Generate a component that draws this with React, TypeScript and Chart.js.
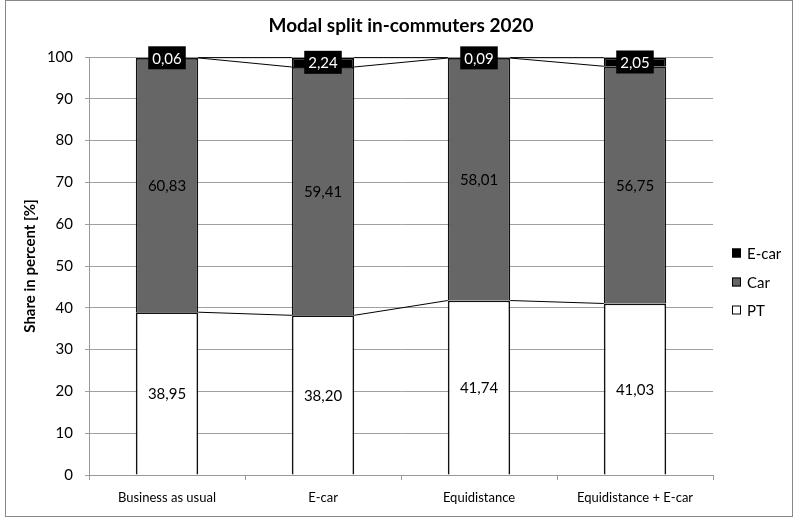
import React, { useEffect, useRef } from "react";
import { Chart, registerables } from "chart.js";

Chart.register(...registerables);

const categories = ["Business as usual", "E-car", "Equidistance", "Equidistance + E-car"];
const ptValues = [38.95, 38.2, 41.74, 41.03];
const carValues = [60.83, 59.41, 58.01, 56.75];
const ecarValues = [0.06, 2.24, 0.09, 2.05];
const seriesNames = ["PT", "Car", "E-car"];
const title = "Modal split in-commuters 2020";
const yTitle = "Share in percent [%]";

const FONT = "Lato, 'Open Sans', sans-serif";
const fmt = (v: number) => v.toFixed(2).replace(".", ",");

const decorPlugin = {
  id: "decor",
  beforeDatasetsDraw(chart: any) {
    const ctx = chart.ctx;
    ctx.save();
    ctx.strokeStyle = "#000";
    ctx.lineWidth = 1;
    chart.data.datasets.forEach((_: any, d: number) => {
      const meta = chart.getDatasetMeta(d);
      for (let i = 0; i < meta.data.length - 1; i++) {
        const a = meta.data[i];
        const b = meta.data[i + 1];
        ctx.beginPath();
        ctx.moveTo(a.x + a.width / 2, a.y);
        ctx.lineTo(b.x - b.width / 2, b.y);
        ctx.stroke();
      }
    });
    ctx.restore();
  },
  afterDatasetsDraw(chart: any) {
    const ctx = chart.ctx;
    ctx.save();
    ctx.font = `15px ${FONT}`;
    ctx.textAlign = "center";
    ctx.textBaseline = "middle";
    chart.data.datasets.forEach((ds: any, d: number) => {
      const meta = chart.getDatasetMeta(d);
      meta.data.forEach((el: any, i: number) => {
        const txt = fmt(ds.data[i]);
        const cy = (el.y + el.base) / 2;
        if (d === 2) {
          const w = ctx.measureText(txt).width + 8;
          const h = 23;
          ctx.fillStyle = "#000";
          ctx.fillRect(el.x - w / 2, cy - h / 2, w, h);
          ctx.fillStyle = "#fff";
          ctx.fillText(txt, el.x, cy + 1);
        } else {
          ctx.fillStyle = "#000";
          ctx.fillText(txt, el.x, cy + 1);
        }
      });
    });
    ctx.restore();
  },
  afterDraw(chart: any) {
    const ctx = chart.ctx;
    const ca = chart.chartArea;
    ctx.save();
    // outer border
    ctx.strokeStyle = "#888";
    ctx.lineWidth = 1;
    ctx.strokeRect(5.5, 0.5, 787, 516);
    // title
    ctx.fillStyle = "#000";
    ctx.font = `bold 19px ${FONT}`;
    ctx.textAlign = "center";
    ctx.textBaseline = "middle";
    ctx.fillText(title, (ca.left + ca.right) / 2, 26);
    // y title
    ctx.save();
    ctx.translate(30, (ca.top + ca.bottom) / 2);
    ctx.rotate(-Math.PI / 2);
    ctx.font = `bold 15px ${FONT}`;
    ctx.fillText(yTitle, 0, 0);
    ctx.restore();
    // legend
    const items = [
      { name: seriesNames[2], fill: "#000", y: 253 },
      { name: seriesNames[1], fill: "#666", y: 282 },
      { name: seriesNames[0], fill: "#fff", y: 310 },
    ];
    ctx.font = `15px ${FONT}`;
    ctx.textAlign = "left";
    items.forEach((it) => {
      ctx.fillStyle = it.fill;
      ctx.fillRect(732, it.y - 4.5, 9, 9);
      ctx.strokeStyle = "#000";
      ctx.lineWidth = 1;
      ctx.strokeRect(732.5, it.y - 4, 8, 8);
      ctx.fillStyle = "#000";
      ctx.fillText(it.name, 747, it.y + 1);
    });
    ctx.restore();
  },
};

export default function App() {
  const ref = useRef<HTMLCanvasElement>(null);
  useEffect(() => {
    if (!ref.current) return;
    const chart = new Chart(ref.current, {
      type: "bar",
      data: {
        labels: categories,
        datasets: [
          { label: seriesNames[0], data: ptValues, backgroundColor: "#ffffff", borderColor: "#111", borderWidth: 1.75 },
          { label: seriesNames[1], data: carValues, backgroundColor: "#666666", borderColor: "#111", borderWidth: 1.75 },
          { label: seriesNames[2], data: ecarValues, backgroundColor: "#000000", borderColor: "#000", borderWidth: 1.75 },
        ],
      },
      options: {
        responsive: false,
        animation: false,
        devicePixelRatio: 1,
        layout: { padding: { left: 0, right: 83, top: 57, bottom: 0 } },
        datasets: { bar: { barPercentage: 0.4, categoryPercentage: 1 } },
        plugins: { legend: { display: false }, title: { display: false }, tooltip: { enabled: false } },
        scales: {
          x: {
            stacked: true,
            grid: { drawOnChartArea: false, drawTicks: true, tickLength: 5, color: "#999", offset: true },
            border: { color: "#999" },
            ticks: { color: "#000", font: { family: FONT, size: 13 }, padding: 10, maxRotation: 0 },
            afterFit: (s: any) => { s.height = 43; },
          },
          y: {
            stacked: true,
            min: 0,
            max: 100,
            grid: { color: "#a0a0a0", tickLength: 4 },
            border: { color: "#999" },
            ticks: { stepSize: 10, color: "#000", font: { family: FONT, size: 15 }, padding: 12 },
            afterFit: (s: any) => { s.width = 89; },
          },
        },
      },
      plugins: [decorPlugin],
    });
    return () => chart.destroy();
  }, []);
  return (
    <div style={{ position: "fixed", left: 0, top: 0, width: 796, height: 518, background: "#fff" }}>
      <canvas ref={ref} width={796} height={518} />
    </div>
  );
}
